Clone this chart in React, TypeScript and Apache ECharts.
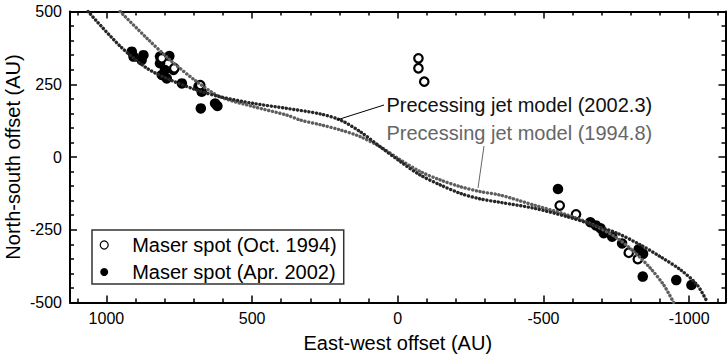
import React, { useEffect, useRef } from "react";
import * as echarts from "echarts";

// Tick values
const xMajorTicks = [-1000, -500, 0, 500, 1000];
const xMinorTicks = [-1100, -900, -800, -700, -600, -400, -300, -200, -100, 100, 200, 300, 400, 600, 700, 800, 900, 1100];

// Precessing jet model curves
const jetModel2002: [number, number][] = [
  [1063, 500], [953, 381], [861, 305], [781, 265], [690, 230], [610, 207], [495, 184],
  [381, 167], [266, 148], [197, 127], [129, 87], [60, 35], [-9, -16], [-77, -62],
  [-146, -96], [-215, -125], [-283, -144], [-352, -156], [-467, -176], [-581, -205],
  [-673, -234], [-753, -262], [-833, -302], [-902, -343], [-971, -388], [-1028, -440], [-1063, -500],
];
const jetModel1994: [number, number][] = [
  [953, 500], [861, 408], [781, 333], [690, 259], [610, 207], [495, 173], [381, 144],
  [335, 127], [266, 111], [197, 93], [129, 70], [60, 35], [-9, -10], [-77, -50],
  [-146, -79], [-215, -102], [-283, -119], [-352, -131], [-467, -165], [-581, -199],
  [-673, -234], [-753, -279], [-810, -325], [-867, -382], [-913, -440], [-947, -500],
];

// Maser spots
const spots1994: [number, number][] = [
  [-71, 339], [-71, 305], [-91, 259],
  [810, 339], [767, 305], [678, 247],
  [-556, -167], [-612, -197], [-793, -329], [-824, -351],
];
const spots2002: [number, number][] = [
  [913, 362], [907, 345], [873, 350], [879, 333], [816, 345], [784, 347], [816, 322],
  [799, 299], [770, 299], [810, 282], [793, 270], [741, 253], [684, 242], [673, 224],
  [676, 167], [627, 184], [619, 175],
  [-550, -110], [-661, -224], [-680, -235], [-696, -245], [-707, -262], [-736, -274],
  [-770, -297], [-827, -317], [-842, -333], [-841, -411], [-956, -423], [-1008, -440],
];

const FONT = "'Liberation Sans', Arial, Helvetica, sans-serif";
const fmt = (v: number) => String(v);

export default function App() {
  const ref = useRef<HTMLDivElement>(null);
  useEffect(() => {
    document.body.style.margin = "0";
    if (!ref.current) return;
    const chart = echarts.init(ref.current, undefined, { renderer: "svg" });
    const tickLine = { color: "#000", width: 1.5 };
    const baseX = {
      type: "value" as const,
      min: -1125,
      max: 1125,
      inverse: true,
      splitLine: { show: false },
    };
    const majorX = (pos: "top" | "bottom", labels: boolean) => ({
      ...baseX,
      position: pos,
      axisLine: { show: true, onZero: false, lineStyle: { color: "#000", width: 2 } },
      axisTick: { show: true, inside: true, length: 7, customValues: xMajorTicks, lineStyle: tickLine },
      axisLabel: labels
        ? { show: true, customValues: xMajorTicks, fontSize: 16, color: "#000", margin: 8, fontFamily: FONT, formatter: fmt }
        : { show: false },
    });
    const minorX = (pos: "top" | "bottom") => ({
      ...baseX,
      position: pos,
      axisLine: { show: false, onZero: false },
      axisTick: { show: true, inside: true, length: 4, customValues: xMinorTicks, lineStyle: tickLine },
      axisLabel: { show: false },
    });
    const yBase = (pos: "left" | "right", labels: boolean) => ({
      type: "value" as const,
      min: -500,
      max: 500,
      interval: 250,
      position: pos,
      splitLine: { show: false },
      axisLine: { show: true, onZero: false, lineStyle: { color: "#000", width: 2 } },
      axisTick: { show: true, inside: true, length: 7, lineStyle: tickLine },
      minorTick: { show: true, splitNumber: 5, length: 4, lineStyle: tickLine },
      minorSplitLine: { show: false },
      axisLabel: labels
        ? { show: true, fontSize: 16, color: "#000", margin: 8, fontFamily: FONT, formatter: fmt }
        : { show: false },
    });

    chart.setOption({
      animation: false,
      textStyle: { fontFamily: FONT },
      grid: { left: 70, right: 1.5, top: 11.5, bottom: 53.5, outerBoundsMode: "none", containLabel: false },
      xAxis: [
        {
          ...majorX("bottom", true),
          name: "East-west offset (AU)",
          nameLocation: "middle",
          nameGap: 30,
          nameMoveOverlap: false,
          nameTextStyle: { fontSize: 20, color: "#000", fontFamily: FONT },
        },
        minorX("bottom"),
        majorX("top", false),
        minorX("top"),
      ],
      yAxis: [
        {
          ...yBase("left", true),
          name: "North-south offset (AU)",
          nameLocation: "middle",
          nameGap: 47,
          nameMoveOverlap: false,
          nameTextStyle: { fontSize: 20, color: "#000", fontFamily: FONT, lineHeight: 20 },
        },
        yBase("right", false),
      ],
      legend: {
        orient: "vertical",
        left: 92,
        top: 230,
        data: [
          {
            name: "Maser spot (Oct. 1994)",
            icon: "circle",
            itemStyle: { color: "#fff", borderColor: "#000", borderWidth: 1.2, opacity: 1 },
          },
          { name: "Maser spot (Apr. 2002)", icon: "circle", itemStyle: { color: "#000", opacity: 1 } },
        ],
        itemWidth: 8,
        itemHeight: 8,
        itemGap: 7,
        padding: [5, 7, 2, 7.6],
        borderColor: "#333",
        borderWidth: 1.5,
        textStyle: { fontSize: 20, color: "#000", fontFamily: FONT, lineHeight: 20, padding: [0, 0, 0, 19] },
      },
      series: [
        {
          type: "scatter",
          name: "Maser spot (Apr. 2002)",
          data: spots2002,
          symbol: "circle",
          symbolSize: 10.5,
          itemStyle: { color: "#000", opacity: 1 },
          z: 2,
        },
        {
          type: "scatter",
          name: "Maser spot (Oct. 1994)",
          data: spots1994,
          symbol: "circle",
          symbolSize: 8.5,
          itemStyle: { color: "#fff", borderColor: "#000", borderWidth: 2.2, opacity: 1 },
          z: 3,
        },
        {
          type: "line",
          name: "Precessing jet model (1994.8)",
          data: jetModel1994,
          smooth: 0.3,
          showSymbol: false,
          symbol: "none",
          silent: true,
          lineStyle: { color: "#5e5e5e", width: 3.4, type: [0.1, 3.7], cap: "round" },
          z: 4,
        },
        {
          type: "line",
          name: "Precessing jet model (2002.3)",
          data: jetModel2002,
          smooth: 0.3,
          showSymbol: false,
          symbol: "none",
          silent: true,
          lineStyle: { color: "#262626", width: 3.4, type: [0.1, 3.7], cap: "round" },
          z: 5,
        },
      ],
      graphic: [
        {
          type: "line",
          shape: { x1: 336.7, y1: 120, x2: 384, y2: 105 },
          style: { stroke: "#000", lineWidth: 1 },
          z: 10,
        },
        {
          type: "text",
          x: 386.5,
          y: 105,
          style: { text: "Precessing jet model (2002.3)", fill: "#111", fontSize: 20, fontFamily: FONT, verticalAlign: "middle" },
          z: 10,
        },
        {
          type: "line",
          shape: { x1: 484, y1: 146, x2: 478, y2: 188 },
          style: { stroke: "#666", lineWidth: 1 },
          z: 10,
        },
        {
          type: "text",
          x: 386.5,
          y: 133,
          style: { text: "Precessing jet model (1994.8)", fill: "#666", fontSize: 20, fontFamily: FONT, verticalAlign: "middle" },
          z: 10,
        },
      ],
    });
    return () => chart.dispose();
  }, []);
  return <div ref={ref} style={{ width: 727, height: 356 }} />;
}
